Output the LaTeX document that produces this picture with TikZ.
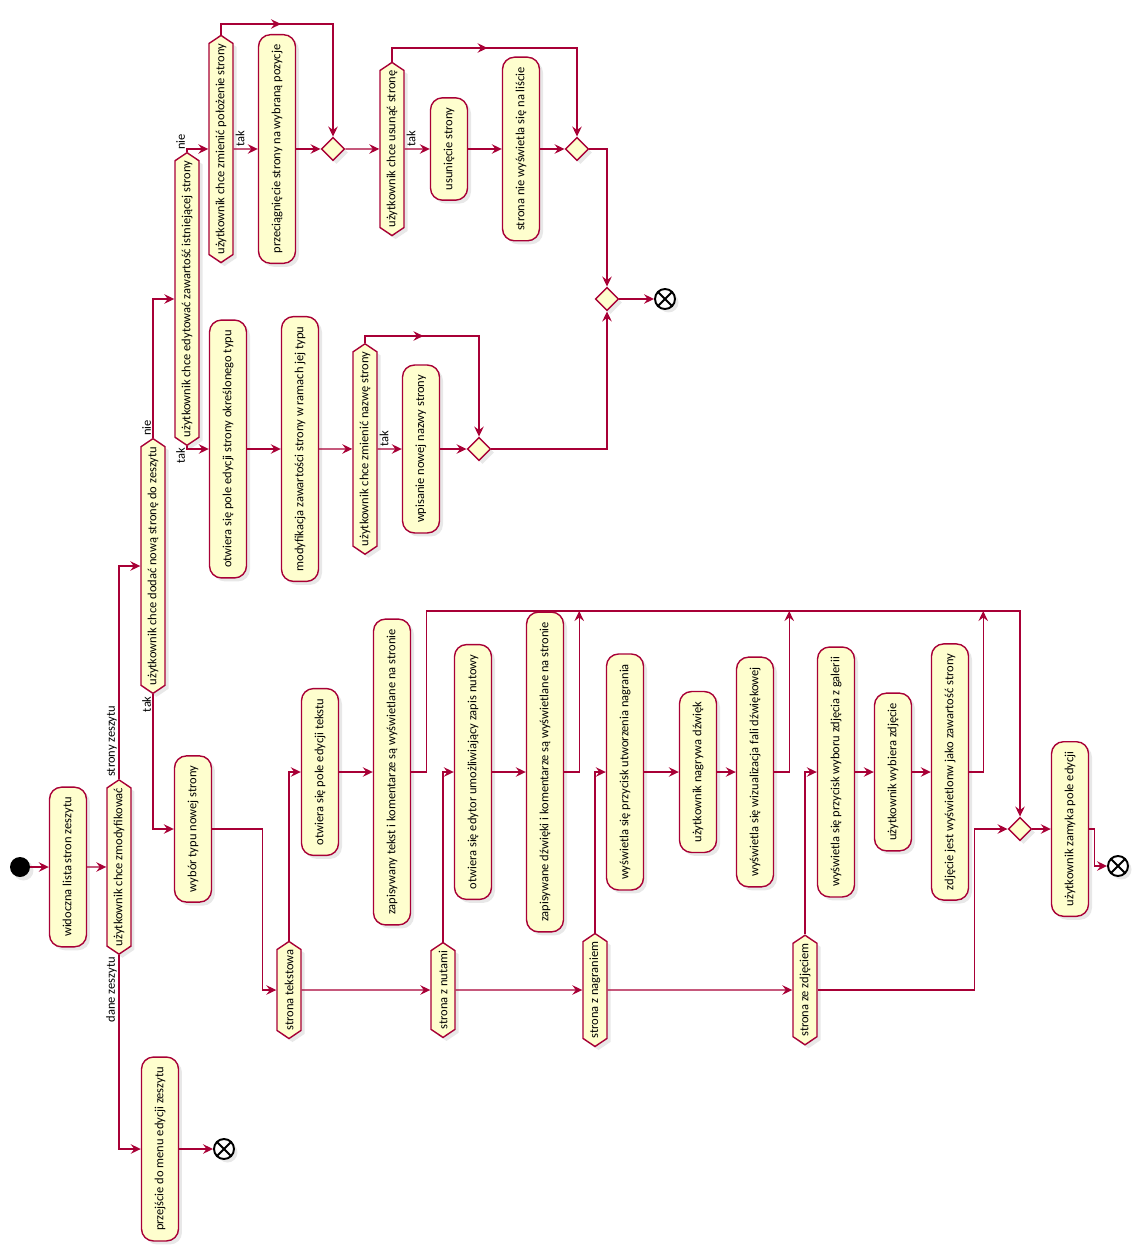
\documentclass[tikz,border=0pt]{standalone}
\usepackage{fontspec}
\setmainfont{Carlito}
\usepackage{graphicx}
\usepackage{xcolor}
\definecolor{umlred}{HTML}{A80036}
\definecolor{umlyellow}{HTML}{FEFECE}
\usetikzlibrary{arrows.meta,shapes.geometric,shapes.symbols,shadows,decorations.markings,calc}
\newcommand{\vt}[1]{\rotatebox{90}{#1}}
\tikzset{
  umltip/.tip={Stealth[length=0.2cm,width=0.19cm,inset=0.07cm]},
  umlshadow/.style={drop shadow={shadow xshift=0.07cm,shadow yshift=-0.07cm,opacity=0.18}},
  act/.style={draw=umlred, fill=umlyellow, line width=0.8pt, rounded corners=0.24cm,
    minimum width=0.74cm, inner xsep=0pt, inner ysep=0.2cm, umlshadow},
  cond/.style={signal, signal to=north and south, signal pointer angle=112, draw=umlred,
    fill=umlyellow, line width=0.8pt, minimum width=0.48cm, inner xsep=0pt, inner ysep=0pt, umlshadow},
  merge/.style={diamond, draw=umlred, fill=umlyellow, line width=0.8pt, minimum size=0.47cm,
    inner sep=0pt, umlshadow},
  startdot/.style={circle, fill=black, minimum size=0.4cm, inner sep=0pt, umlshadow},
  stopdot/.style={circle, draw=black, fill=white, line width=1.1pt, minimum size=0.4cm, inner sep=0pt,
    umlshadow, path picture={\draw[line width=1.1pt]
      (path picture bounding box.north west) -- (path picture bounding box.south east)
      (path picture bounding box.north east) -- (path picture bounding box.south west);}},
  flow/.style={draw=umlred, line width=0.8pt, -umltip},
  loopflow/.style={flow, postaction={decorate},
    decoration={markings, mark=at position #1 with {\arrow{umltip}}}},
  lbl/.style={inner sep=1pt},
}

\begin{document}
\begin{tikzpicture}[x=0.02cm, y=-0.02cm, every node/.style={font=\fontsize{7.1}{8.5}\selectfont}]
    \useasboundingbox (0,0) rectangle (1144,1253);

    % Entry and first decision
    \node[startdot] (start) at (20,867) {};
    \node[act] (list) at (68,867) {\vt{widoczna lista stron zeszytu}};
    \node[cond] (modq) at (119,867) {\vt{użytkownik chce zmodyfikować}};
    \node[lbl, anchor=south east] (lpages) at (modq.north) {\vt{strony zeszytu}};
    \node[lbl, anchor=north east] (ldata) at (modq.south) {\vt{dane zeszytu}};

    \node[act] (menu) at (160,1149) {\vt{przejście do menu edycji zeszytu}};
    \node[stopdot] (end1) at (224,1149) {};

    % Add or edit a page
    \node[cond] (addq) at (153,566) {\vt{użytkownik chce dodać nową stronę do zeszytu}};
    \node[lbl, anchor=south east] (laddno) at (addq.north) {\vt{nie}};
    \node[lbl, anchor=north east] (laddyes) at (addq.south) {\vt{tak}};

    \node[cond] (editq) at (187,299) {\vt{użytkownik chce edytować zawartość istniejącej strony}};
    \node[lbl, anchor=south east] (leditno) at (editq.north) {\vt{nie}};
    \node[lbl, anchor=north east] (ledityes) at (editq.south) {\vt{tak}};

    % Move and delete branch
    \node[cond] (movq) at (221,149) {\vt{użytkownik chce zmienić położenie strony}};
    \node[lbl, anchor=south west] (lmovyes) at (movq.east) {\vt{tak}};
    \node[act] (drag) at (277,149) {\vt{przeciągnięcie strony na wybraną pozycje}};
    \node[merge] (m1) at (333,149) {};
    \node[cond] (delq) at (392,149) {\vt{użytkownik chce usunąć stronę}};
    \node[lbl, anchor=south west] (ldelyes) at (delq.east) {\vt{tak}};
    \node[act] (del) at (449,149) {\vt{usunięcie strony}};
    \node[act] (hide) at (521,149) {\vt{strona nie wyświetla się na liście}};
    \node[merge] (m2) at (577,149) {};
    \node[merge] (m3) at (607,299) {};
    \node[stopdot] (end2) at (665,299) {};

    % Content edit branch
    \node[act] (openedit) at (228,449) {\vt{otwiera się pole edycji strony określonego typu}};
    \node[act] (modify) at (300,449) {\vt{modyfikacja zawartości strony w ramach jej typu}};
    \node[cond] (renq) at (365,449) {\vt{użytkownik chce zmienić nazwę strony}};
    \node[lbl, anchor=south west] (lrenyes) at (renq.east) {\vt{tak}};
    \node[act] (rename) at (421,449) {\vt{wpisanie nowej nazwy strony}};
    \node[merge] (m4) at (479,449) {};

    % New page types
    \node[act] (typesel) at (193,829) {\vt{wybór typu nowej strony}};
    \node[cond] (ttext) at (289,990) {\vt{strona tekstowa}};
    \node[cond] (tnote) at (443,990) {\vt{strona z nutami}};
    \node[cond] (trec) at (595,990) {\vt{strona z nagraniem}};
    \node[cond] (tphoto) at (805,990) {\vt{strona ze zdjęciem}};

    \node[act] (text1) at (320,772) {\vt{otwiera się pole edycji tekstu}};
    \node[act] (text2) at (392,772) {\vt{zapisywany tekst i komentarze są wyświetlane na stronie}};
    \node[act] (note1) at (473,772) {\vt{otwiera się edytor umożliwiający zapis nutowy}};
    \node[act] (note2) at (545,772) {\vt{zapisywane dźwięki i komentarze są wyświetlane na stronie}};
    \node[act] (rec1) at (625,772) {\vt{wyświetla się przycisk utworzenia nagrania}};
    \node[act] (rec2) at (698,772) {\vt{użytkownik nagrywa dźwięk}};
    \node[act] (rec3) at (755,772) {\vt{wyświetla się wizualizacja fali dźwiękowej}};
    \node[act] (photo1) at (836,772) {\vt{wyświetla się przycisk wyboru zdjęcia z galerii}};
    \node[act] (photo2) at (893,772) {\vt{użytkownik wybiera zdjęcie}};
    \node[act] (photo3) at (950,772) {\vt{zdjęcie jest wyświetlonw jako zawartość strony}};

    \node[merge] (m5) at (1020,829) {};
    \node[act] (close) at (1070,829) {\vt{użytkownik zamyka pole edycji}};
    \node[stopdot] (end3) at (1118,866) {};

    % Connectors
    \draw[flow] (start) -- (list);
    \draw[flow] (list) -- (modq);
    \draw[flow] (modq.north) |- (addq.west);
    \draw[flow] (modq.south) |- (menu.west);
    \draw[flow] (menu) -- (end1);

    \draw[flow] (addq.north) |- (editq.west);
    \draw[flow] (addq.south) |- (typesel.west);
    \draw[flow] (editq.north) |- (movq.west);
    \draw[flow] (editq.south) |- (openedit.west);

    \draw[flow] (movq) -- (drag);
    \draw[flow] (drag) -- (m1);
    \draw[loopflow=0.3] (movq.north) |- (m1.north |- 0,24) -- (m1.north);
    \draw[flow] (m1) -- (delq);
    \draw[flow] (delq) -- (del);
    \draw[flow] (del) -- (hide);
    \draw[flow] (hide) -- (m2);
    \draw[loopflow=0.38] (delq.north) |- (m2.north |- 0,48) -- (m2.north);
    \draw[flow] (m2.east) -| (m3.north);
    \draw[flow] (m3) -- (end2);

    \draw[flow] (openedit) -- (modify);
    \draw[flow] (modify) -- (renq);
    \draw[flow] (renq) -- (rename);
    \draw[flow] (rename) -- (m4);
    \draw[loopflow=0.295] (renq.north) |- (m4.north |- 0,336) -- (m4.north);
    \draw[flow] (m4.east) -| (m3.south);

    \draw[flow] (typesel.east) -- ++(50,0) |- (ttext.west);
    \draw[flow] (ttext) -- (tnote);
    \draw[flow] (tnote) -- (trec);
    \draw[flow] (trec) -- (tphoto);

    \draw[flow] (ttext.north) |- (text1.west);
    \draw[flow] (text1) -- (text2);
    \draw[flow] (text2.east) -- ++(15,0) |- (m5.north |- 0,611) -- (m5.north);

    \draw[flow] (tnote.north) |- (note1.west);
    \draw[flow] (note1) -- (note2);
    \draw[flow] (note2.east) -- ++(15,0) coordinate (n2c) -- (n2c |- 0,611);

    \draw[flow] (trec.north) |- (rec1.west);
    \draw[flow] (rec1) -- (rec2);
    \draw[flow] (rec2) -- (rec3);
    \draw[flow] (rec3.east) -- ++(15,0) coordinate (r3c) -- (r3c |- 0,611);

    \draw[flow] (tphoto.north) |- (photo1.west);
    \draw[flow] (photo1) -- (photo2);
    \draw[flow] (photo2) -- (photo3);
    \draw[flow] (photo3.east) -- ++(14,0) coordinate (p3c) -- (p3c |- 0,611);
    \draw[flow] (tphoto.east) -- ++(157,0) |- (m5.west);

    \draw[flow] (m5) -- (close);
    \draw[flow] (close.east) -- ++(5,0) |- (end3.west);
\end{tikzpicture}
\end{document}
